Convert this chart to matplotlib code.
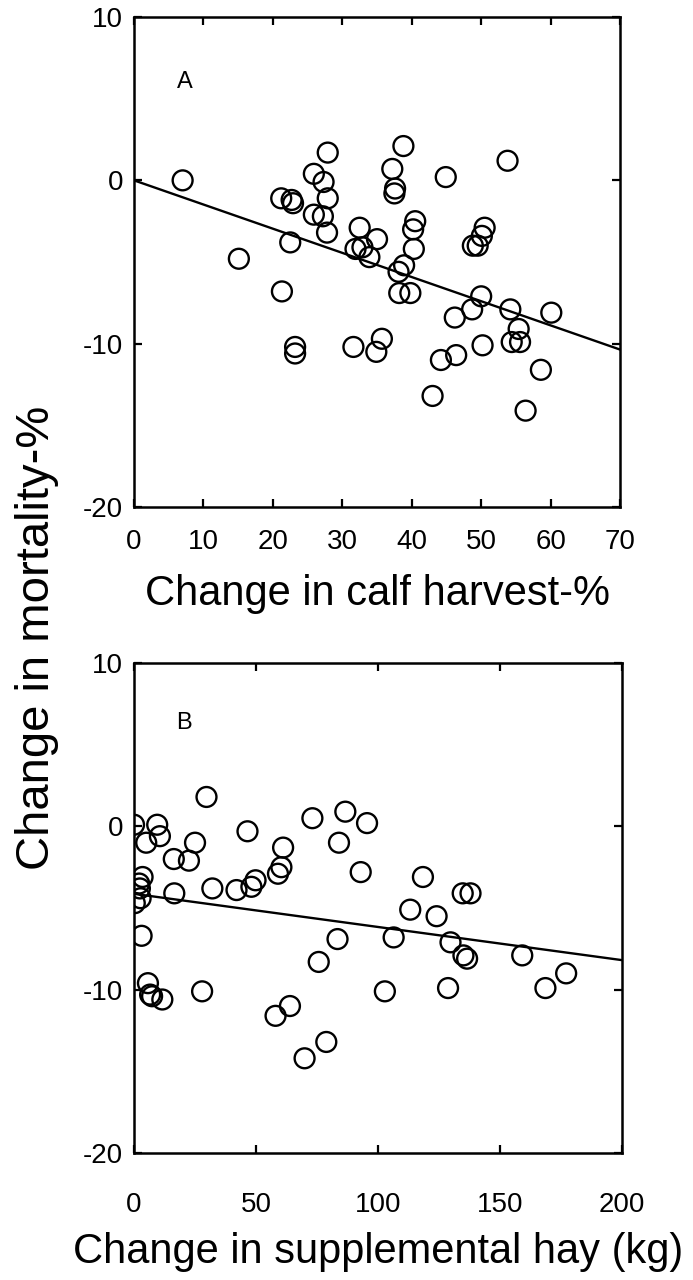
import numpy as np
import matplotlib
matplotlib.use("Agg")
import matplotlib.pyplot as plt


plt.rcParams["font.family"] = ["Liberation Sans", "DejaVu Sans"]
plt.rcParams["axes.unicode_minus"] = False


# panel A: change in calf harvest (%) vs change in mortality (%)
harvest_x = [7.0, 27.9, 38.8, 53.8, 44.9, 37.2, 37.6, 37.5, 25.9, 27.3,
	27.9, 21.2, 22.7, 22.9, 25.9, 27.2, 27.8, 22.5, 15.1, 32.5,
	35.0, 31.9, 32.9, 33.9, 40.5, 40.2, 40.3, 38.9, 38.1, 50.5,
	50.1, 49.5, 48.8, 21.3, 38.2, 39.8, 50.0, 48.7, 46.2, 54.2,
	60.1, 55.4, 54.4, 55.6, 50.2, 23.2, 23.2, 31.6, 35.7, 34.9,
	46.4, 44.2, 58.6, 43.0, 56.4]
harvest_y = [0.0, 1.7, 2.1, 1.2, 0.2, 0.7, -0.5, -0.8, 0.4, -0.1,
	-1.1, -1.1, -1.2, -1.4, -2.1, -2.2, -3.2, -3.8, -4.8, -2.9,
	-3.6, -4.2, -4.1, -4.7, -2.5, -3.0, -4.2, -5.2, -5.6, -2.9,
	-3.4, -4.0, -4.0, -6.8, -6.9, -6.9, -7.1, -7.9, -8.4, -7.9,
	-8.1, -9.1, -9.9, -9.9, -10.1, -10.2, -10.6, -10.2, -9.7, -10.5,
	-10.7, -11.0, -11.6, -13.2, -14.1]
harvest_fit = (0.0, -0.148) # intercept, slope

# panel B: change in supplemental hay (kg) vs change in mortality (%)
hay_x = [29.7, 0.0, 9.5, 10.6, 5.0, 25.0, 16.3, 22.5, 46.5, 61.1,
	73.1, 86.6, 95.5, 84.0, 60.4, 59.0, 92.9, 49.8, 48.1, 42.0,
	32.1, 16.5, 3.5, 2.1, 2.4, 2.7, 0.3, 3.1, 118.4, 134.7,
	137.9, 113.2, 124.0, 129.7, 135.0, 136.5, 106.4, 83.4, 75.7, 159.1,
	177.1, 168.6, 128.7, 102.8, 5.7, 6.6, 7.4, 11.6, 27.9, 63.9,
	58.0, 78.8, 69.9]
hay_y = [1.8, 0.1, 0.1, -0.6, -1.0, -1.0, -2.0, -2.1, -0.3, -1.3,
	0.5, 0.9, 0.2, -1.0, -2.5, -2.9, -2.8, -3.3, -3.7, -3.9,
	-3.8, -4.1, -3.1, -3.5, -3.8, -4.4, -4.7, -6.7, -3.1, -4.1,
	-4.1, -5.1, -5.5, -7.1, -7.9, -8.1, -6.8, -6.9, -8.3, -7.9,
	-9.0, -9.9, -9.9, -10.1, -9.6, -10.3, -10.4, -10.6, -10.1, -11.0,
	-11.6, -13.2, -14.2]
hay_fit = (-4.13, -0.0203)

y_ticks = [-20, -10, 0, 10]
y_ticklabels = ["-20", "-10", "0", "10"]
harvest_ticks = [0, 10, 20, 30, 40, 50, 60, 70]
hay_ticks = [0, 50, 100, 150, 200]


def draw_panel(ax, x, y, fit, xmax, xticks, letter, letter_pos, xlabel, xpad, label_y):
	ax.scatter(x, y, s=205, facecolors="none", edgecolors="black", linewidths=1.7, zorder=3)

	xs = np.array([0, xmax])
	ax.plot(xs, fit[0] + fit[1] * xs, color="black", lw=1.7, zorder=2)

	ax.set_xlim(0, xmax)
	ax.set_ylim(-20, 10)
	ax.set_xticks(xticks)
	ax.set_yticks(y_ticks)
	ax.set_yticklabels(y_ticklabels)

	ax.tick_params(direction="in", top=True, right=True, length=6, width=1.6, labelsize=20)
	ax.tick_params(axis="x", pad=xpad)
	ax.tick_params(axis="y", pad=8)
	for sp in ax.spines.values():
		sp.set_linewidth(1.8)

	ax.text(letter_pos[0], letter_pos[1], letter, fontsize=17, ha="center", va="center")

	ax.set_xlabel(xlabel, fontsize=30, va="baseline")
	ax.xaxis.set_label_coords(0.5, label_y)


fig = plt.figure(figsize=(6.93, 12.8), dpi=100)

ax_a = fig.add_axes([0.1934, 0.6039, 0.7013, 0.3828])
draw_panel(ax_a, harvest_x, harvest_y, harvest_fit, 70, harvest_ticks,
	"A", (7.3, 6.0), "Change in calf harvest-%", 15.5, -0.2)

ax_b = fig.add_axes([0.1934, 0.0992, 0.7042, 0.3828])
draw_panel(ax_b, hay_x, hay_y, hay_fit, 200, hay_ticks,
	"B", (20.5, 6.3), "Change in supplemental hay (kg)", 28, -0.225)

fig.text(37 / 693, 1 - 638 / 1280, "Change in mortality-%", rotation=90,
	fontsize=34, ha="center", va="center")

fig.savefig("out.png", dpi=100)
print("Saved out.png")
